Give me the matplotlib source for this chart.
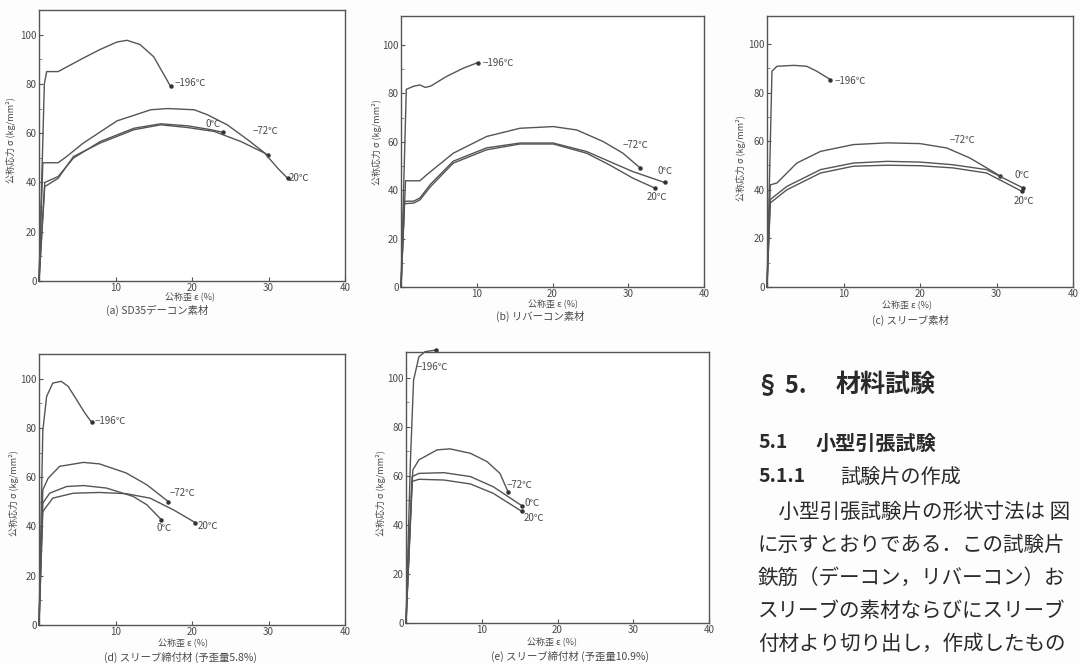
import numpy as np
import matplotlib.pyplot as plt

plt.rcParams['font.family'] = ['Noto Sans CJK JP', 'DejaVu Sans']

# --- data (strain %, stress kg/mm^2) ---
temps = ['−196℃', '−72℃', '0℃', '20℃']

# (a) SD35 deformed bar
a_m196_x = [0, 0.7, 1.0, 2.5, 4.0, 5.8, 8.0, 10.2, 11.5, 13.2, 15.0, 17.2]
a_m196_y = [0, 80, 85, 85, 87.5, 90.5, 94, 97, 97.7, 96, 91, 79]
a_m72_x = [0, 0.5, 2.5, 3.6, 5.8, 10.2, 14.6, 16.8, 20.3, 22, 24.6, 27.3, 29.9]
a_m72_y = [0, 48, 48, 50.5, 56, 65, 69.5, 70, 69.5, 67.5, 63.4, 57.3, 51]
a_0_x = [0, 0.75, 2.5, 4.5, 8, 12.4, 15.9, 19.4, 22.5, 24]
a_0_y = [0, 40, 42.4, 49.9, 56.6, 62, 63.8, 63, 61.4, 60.4]
a_20_x = [0, 0.75, 2.5, 4.5, 8, 12.4, 15.9, 19.4, 22.9, 26.4, 29.5, 31.2, 32.5]
a_20_y = [0, 38.3, 41.7, 50.5, 56, 61.4, 63.4, 62.3, 60.7, 56.6, 51.9, 45.8, 41.7]

# (b) rebar
b_m196_x = [0, 0.7, 1.7, 2.5, 3.2, 3.9, 6, 8.2, 10.1]
b_m196_y = [0, 81.7, 83, 83.5, 82.5, 83, 87, 90.4, 92.7]
b_m72_x = [0, 0.6, 2.5, 3.4, 6.9, 11.3, 15.7, 20.1, 23.2, 26.7, 29.3, 31.6]
b_m72_y = [0, 43.9, 43.9, 46.4, 55.3, 62.2, 65.6, 66.3, 64.9, 60.1, 55.3, 49.1]
b_0_x = [0, 0.45, 1.7, 2.5, 3.9, 6.9, 11.3, 15.7, 20.1, 24.5, 27.5, 30.6, 34.8]
b_0_y = [0, 35.4, 35.5, 36.8, 42.5, 52, 57.5, 59.5, 59.5, 56, 51.9, 47.7, 43.2]
b_20_x = [0, 0.45, 1.7, 2.5, 3.9, 6.9, 11.3, 15.7, 20.1, 24.5, 27.5, 30.6, 33.5]
b_20_y = [0, 34.4, 34.7, 36, 41.5, 51.2, 56.7, 59.1, 59.1, 55.3, 50.5, 45, 40.9]

# (c) sleeve raw material
c_m196_x = [0, 0.65, 1.3, 3.5, 5.2, 6.5, 8.3]
c_m196_y = [0, 88.8, 90.8, 91.2, 90.8, 88.8, 85.3]
c_m72_x = [0, 0.43, 1.3, 3.9, 7, 11.3, 15.7, 20, 23.5, 26.5, 29.1, 30.4]
c_m72_y = [0, 42, 42.8, 51, 55.8, 58.6, 59.3, 59, 57.2, 53.1, 48.3, 45.8]
c_0_x = [0, 0.43, 2.6, 7, 11.3, 15.7, 20, 24.3, 28.7, 33.5]
c_0_y = [0, 36, 41.4, 48.3, 51, 51.7, 51.4, 50.3, 48.3, 40.7]
c_20_x = [0, 0.43, 2.6, 7, 11.3, 15.7, 20, 24.3, 28.7, 33.3]
c_20_y = [0, 34.6, 40, 46.9, 49.7, 50.1, 49.9, 49, 46.9, 39.4]

# (d) sleeve crimped, prestrain 5.8%
d_m196_x = [0, 0.5, 1.0, 1.8, 2.9, 3.8, 4.9, 6.0, 6.9]
d_m196_y = [0, 79, 92.8, 98.2, 98.9, 96.9, 91.5, 86, 82.2]
d_m72_x = [0, 0.5, 1.2, 2.7, 5.8, 7.9, 11.4, 14.1, 16.9]
d_m72_y = [0, 54.9, 59.6, 64.4, 66, 65.4, 61.7, 56.9, 50.1]
d_0_x = [0, 0.5, 1.4, 3.6, 5.8, 8.8, 12.3, 14.1, 16]
d_0_y = [0, 49.5, 53.5, 56.2, 56.6, 55.6, 52.2, 48.8, 42.7]
d_20_x = [0, 0.5, 1.8, 4.5, 7.9, 11.4, 14.5, 17.6, 20.4]
d_20_y = [0, 46.1, 51.5, 53.5, 53.8, 53.3, 51.5, 46.7, 41.6]

# (e) sleeve crimped, prestrain 10.9%
e_m196_x = [0, 0.57, 1.0, 1.7, 2.5, 3.9]
e_m196_y = [0, 65, 99, 108.5, 110.6, 111.3]
e_m72_x = [0, 0.9, 1.7, 4.1, 5.8, 8.5, 10.7, 12.4, 13.5]
e_m72_y = [0, 62.4, 66.5, 70.6, 71, 69.2, 65.8, 61, 53.3]
e_0_x = [0, 0.8, 1.7, 5, 8.5, 11.5, 15.3]
e_0_y = [0, 59.7, 61, 61.3, 59.7, 55.6, 47.8]
e_20_x = [0, 0.8, 1.7, 5, 8.5, 11.5, 15.3]
e_20_y = [0, 57.7, 58.6, 58.3, 56.7, 52.9, 45.5]

captions = ['(a) SD35デーコン素材', '(b) リバーコン素材', '(c) スリーブ素材',
            '(d) スリーブ締付材 (予歪量5.8%)', '(e) スリーブ締付材 (予歪量10.9%)']

W, H = 1080, 664
ink = '#4a4a4a'


def px_rect(x0, y0, x1, y1):
    return [x0 / W, 1 - y1 / H, (x1 - x0) / W, (y1 - y0) / H]


def fx(x):
    return x / W


def fy(y):
    return 1 - y / H


fig = plt.figure(figsize=(W / 100, H / 100), dpi=100)
fig.patch.set_facecolor('#fdfdfd')

# frame (px), y top, label positions, ylabel pos, xlabel pos, caption pos
panels = [
    dict(rect=(39, 10, 345, 281), ytop=110,
         curves=[(a_m196_x, a_m196_y), (a_m72_x, a_m72_y), (a_0_x, a_0_y), (a_20_x, a_20_y)],
         labels=[(17.7, 80.4), (27.9, 60.7), (21.8, 63.8), (32.6, 41.7)],
         ylab=(11, 140), xlab=(190, 298), cap=(157, 310)),
    dict(rect=(401, 16, 704, 287), ytop=112,
         curves=[(b_m196_x, b_m196_y), (b_m72_x, b_m72_y), (b_0_x, b_0_y), (b_20_x, b_20_y)],
         labels=[(10.8, 92.7), (29.3, 58.5), (33.9, 48.1), (32.4, 37.1)],
         ylab=(377, 142), xlab=(553, 305), cap=(540, 316)),
    dict(rect=(767, 16, 1073, 287), ytop=111.5,
         curves=[(c_m196_x, c_m196_y), (c_m72_x, c_m72_y), (c_0_x, c_0_y), (c_20_x, c_20_y)],
         labels=[(8.9, 84.6), (23.9, 60.6), (32.4, 46.2), (32.2, 35.3)],
         ylab=(741, 158), xlab=(907, 306), cap=(910, 320)),
    dict(rect=(39, 354, 345, 625), ytop=110,
         curves=[(d_m196_x, d_m196_y), (d_m72_x, d_m72_y), (d_0_x, d_0_y), (d_20_x, d_20_y)],
         labels=[(7.3, 83), (17.1, 53.5), (15.4, 39.3), (20.8, 40)],
         ylab=(14, 493), xlab=(183, 644), cap=(180, 657)),
    dict(rect=(406, 352, 709, 623), ytop=110.5,
         curves=[(e_m196_x, e_m196_y), (e_m72_x, e_m72_y), (e_0_x, e_0_y), (e_20_x, e_20_y)],
         labels=[(1.4, 104.5), (13.3, 56.3), (15.7, 49.1), (15.5, 42.7)],
         ylab=(381, 493), xlab=(552, 643), cap=(570, 656)),
]

for p, cap in zip(panels, captions):
    ax = fig.add_axes(px_rect(*p['rect']))
    ax.set_facecolor('white')
    for (xs, ys) in p['curves']:
        ax.plot(xs, ys, color='#555555', lw=1.0, clip_on=False)
        ax.plot(xs[-1], ys[-1], 'o', color='#333333', ms=2.2, clip_on=False)
    for t, (lx, ly) in zip(temps, p['labels']):
        ax.text(lx, ly, t, fontsize=7, color=ink, ha='left', va='center')
    ax.set_xlim(0, 40)
    ax.set_ylim(0, p['ytop'])
    ax.set_xticks([0, 10, 20, 30, 40])
    ax.set_xticklabels(['', '10', '20', '30', '40'])
    ax.set_yticks([0, 20, 40, 60, 80, 100])
    ax.set_yticks(np.arange(10, 110, 20), minor=True)
    ax.tick_params(direction='in', length=3, width=0.8, colors='#555555',
                   labelsize=7, labelcolor=ink, pad=1.5)
    ax.tick_params(which='minor', direction='in', length=2, width=0.6, colors='#777777')
    for s in ax.spines.values():
        s.set_color('#555555')
        s.set_linewidth(1.0)
    fig.text(fx(p['ylab'][0]), fy(p['ylab'][1]), '公称応力 σ (kg/mm²)', rotation=90,
             fontsize=6.5, color=ink, ha='center', va='center')
    fig.text(fx(p['xlab'][0]), fy(p['xlab'][1]), '公称歪 ε (%)',
             fontsize=6.5, color=ink, ha='center', va='center')
    fig.text(fx(p['cap'][0]), fy(p['cap'][1]), cap,
             fontsize=7.5, color=ink, ha='center', va='center')

# section text on the lower right
txt = '#2a2a2a'
fig.text(fx(756), fy(385), '§ 5.', fontsize=17, fontweight='bold', color=txt,
         ha='left', va='center')
fig.text(fx(836), fy(385), '材料試験', fontsize=18, fontweight='bold',
         color=txt, ha='left', va='center')
fig.text(fx(758), fy(443), '5.1', fontsize=14, fontweight='bold',
         color=txt, ha='left', va='center')
fig.text(fx(816), fy(443), '小型引張試験', fontsize=14.5, fontweight='bold',
         color=txt, ha='left', va='center')
fig.text(fx(758), fy(477), '5.1.1', fontsize=14, fontweight='bold',
         color=txt, ha='left', va='center')
fig.text(fx(840), fy(477), '試験片の作成', fontsize=14.5, color=txt, ha='left', va='center')
body = ['　小型引張試験片の形状寸法は 図',
        'に示すとおりである．この試験片',
        '鉄筋（デーコン，リバーコン）お',
        'スリーブの素材ならびにスリーブ',
        '付材より切り出し，作成したもの']
for i, line in enumerate(body):
    fig.text(fx(758), fy(512 + i * 33), line, fontsize=14.8, color=txt,
             ha='left', va='center')

fig.savefig('out.png', dpi=100, facecolor=fig.get_facecolor())
